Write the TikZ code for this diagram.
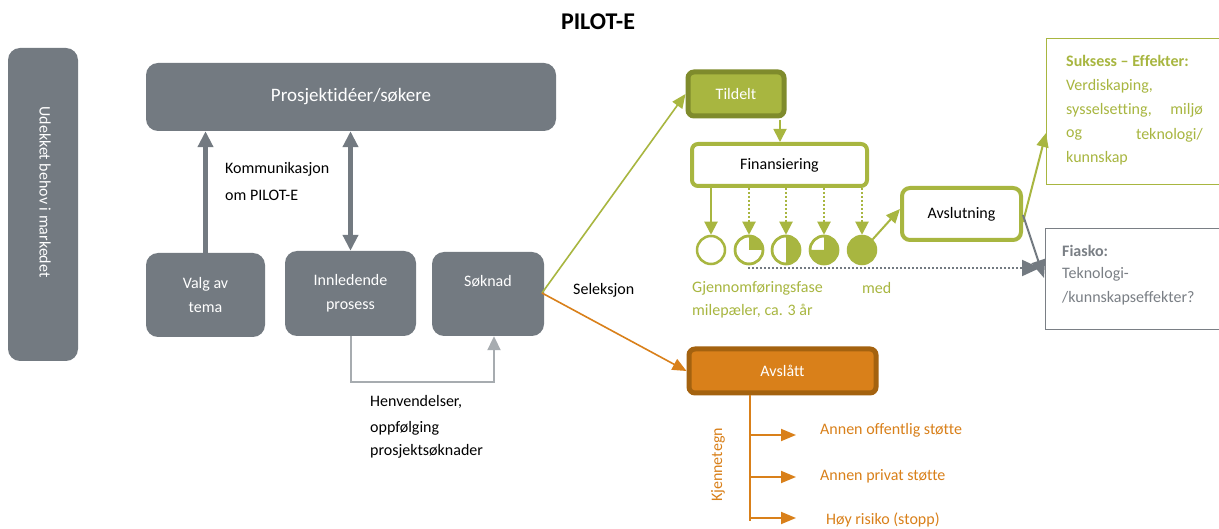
\documentclass[tikz,border=0pt]{standalone}
\usepackage{fontspec}
\setmainfont{Carlito}[Ligatures=NoCommon]
\usetikzlibrary{arrows.meta,positioning,calc}
\definecolor{gbox}{HTML}{737A81}
\definecolor{lgray}{HTML}{A7ACB0}
\definecolor{grn}{HTML}{A8B640}
\definecolor{dgrn}{HTML}{7F8B2C}
\definecolor{org}{HTML}{D9801A}
\definecolor{dorg}{HTML}{A4620F}
\definecolor{tgray}{HTML}{7A7F85}
\tikzset{
  graybox/.style={draw=none,fill=gbox,rounded corners=12pt,text=white,align=center,inner sep=0pt},
  fs/.style={font=\fontsize{16}{24}\selectfont},
  thickgray/.style={draw=gbox,line width=5pt,-{Triangle[width=15pt,length=16pt]}},
  garrow/.style={draw=grn,line width=1.6pt,-{Triangle[width=12pt,length=14pt]}},
  oarrow/.style={draw=org,line width=1.6pt,-{Triangle[width=12pt,length=14pt]}},
  milearrow/.style={draw=grn,line width=2pt,-{Triangle[width=13pt,length=13pt]}},
  mcirc/.style={circle,draw=grn,line width=2.5pt,minimum size=28pt,inner sep=0pt},
  lbl/.style={fs,anchor=west,inner sep=0pt},
}
\begin{document}
\begin{tikzpicture}[x=1pt,y=-1pt]
\useasboundingbox (0,0) rectangle (1219,529);
\fill[white] (0,0) rectangle (1219,529);

% title
\node[font=\fontsize{24}{28}\selectfont\bfseries] (title) at (598,22) {PILOT-E};

% left vertical box
\node[graybox,minimum width=70pt,minimum height=313pt] (side) at (43,204.5) {};
\node[text=white,rotate=-90,font=\fontsize{16}{20}\selectfont] (sidetxt) at (45,192) {Udekket behov i markedet};

% gray boxes
\node[graybox,minimum width=410pt,minimum height=68pt,font=\fontsize{19}{22}\selectfont] (top) at (351,97) {\raisebox{4pt}{Prosjektidéer/søkere}};
\node[graybox,minimum width=119pt,minimum height=84pt,fs] (valg) at (205.5,295) {Valg av\\tema};
\node[graybox,minimum width=131pt,minimum height=85pt,fs] (innl) at (350.5,293.5) {Innledende\\prosess};
\node[graybox,minimum width=112pt,minimum height=84pt,fs] (sok) at (488,294) {\raisebox{26pt}{Søknad}};

\draw[thickgray] (valg.north) -- (valg.north |- top.south);
\draw[thickgray,{Triangle[width=15pt,length=16pt]}-{Triangle[width=15pt,length=16pt]}] (innl.north) -- (innl.north |- top.south);

\node[lbl] (komm) at (225,169) {Kommunikasjon};
\node[lbl] (omp) at (225,195) {om PILOT-E};

% Henvendelser loop
\coordinate (sokin) at ([xshift=6pt]sok.south);
\draw[lgray,line width=2pt,-{Triangle[width=13pt,length=14pt]}] (innl.south) -- ++(0,46) -| (sokin);
\node[lbl] (henv1) at (370,402) {Henvendelser,};
\node[lbl] (henv2) at (370,428) {oppfølging};
\node[lbl] (henv3) at (370,451) {prosjektsøknader};

% Seleksjon
\coordinate (sel) at (542,293);
\node[lbl] (seltxt) at (573,290) {Seleksjon};

% Tildelt
\node[draw=dgrn,fill=grn,line width=5pt,rounded corners=6pt,minimum width=96pt,minimum height=44pt,text=white,fs] (tild) at (736,94) {Tildelt};
\draw[garrow] (sel) -- (tild.west);

% Finansiering
\node[draw=grn,fill=white,line width=4pt,rounded corners=6pt,minimum width=175pt,minimum height=42pt,fs] (fin) at (779.5,165) {Finansiering};
\draw[milearrow,line width=1.8pt] (780,120) -- (fin.north -| 780,0);

% milestone circles
\node[mcirc] (c1) at (711,250) {};
\node[mcirc] (c2) at (749,250) {};
\node[mcirc] (c3) at (786,250) {};
\node[mcirc] (c4) at (824,250) {};
\node[mcirc,fill=grn] (c5) at (862,250) {};
\fill[grn] (c2.center) -- ++(0,-14) arc[start angle=90,end angle=0,radius=14pt] -- cycle;
\fill[grn] (c3.center) ++(0,-14) arc[start angle=90,end angle=-90,radius=14pt] -- cycle;
\fill[grn] (c4.center) -- ++(0,-14) arc[start angle=90,end angle=-180,radius=14pt] -- cycle;
\node[mcirc] at (c2) {};
\node[mcirc] at (c3) {};
\node[mcirc] at (c4) {};

\draw[milearrow] (fin.south -| c1) -- (c1.north);
\foreach \c in {c2,c3,c4,c5}{
  \draw[milearrow,dotted,line width=2pt] (fin.south -| \c) -- (\c.north);
}

\node[lbl,text=grn] (gj1) at (692,288) {Gjennomføringsfase};
\node[lbl,text=grn] (gj2) at (862,288) {med};
\node[lbl,text=grn] (gj3) at (692,311) {milepæler, ca. 3 år};

% Avslutning
\node[draw=grn,fill=white,line width=4pt,rounded corners=8pt,minimum width=119pt,minimum height=52pt,fs] (avsl) at (961.5,214) {Avslutning};
\draw[garrow,line width=2pt] (c5.north east) -- ([yshift=5pt]avsl.west);

% Suksess box
\draw[grn,line width=1pt] (1223,39) -- (1046,39) -- (1046,185) -- (1223,185);
\coordinate (suk) at (1046,133);
\node[lbl,text=grn,font=\fontsize{16}{18}\selectfont\bfseries] (s1) at (1066,61) {Suksess – Effekter:};
\node[lbl,text=grn] (s2) at (1066,86) {Verdiskaping,};
\node[lbl,text=grn] (s3) at (1066,110) {sysselsetting,};
\node[fs,anchor=east,inner sep=0pt,text=grn] (s3b) at (1203,110) {miljø};
\node[lbl,text=grn] (s4) at (1066,135) {og};
\node[fs,anchor=east,inner sep=0pt,text=grn] (s4b) at (1203,135) {teknologi/};
\node[lbl,text=grn] (s5) at (1066,158) {kunnskap};
\draw[garrow,line width=2pt] ([yshift=-8pt]avsl.east) -- (suk);

% Fiasko box
\draw[tgray,line width=1pt] (1223,229) -- (1045,229) -- (1045,330) -- (1223,330);
\node[lbl,text=tgray,font=\fontsize{16}{18}\selectfont\bfseries] (f1) at (1062,251) {Fiasko:};
\node[lbl,text=tgray] (f2) at (1062,274) {Teknologi-};
\node[lbl,text=tgray] (f3) at (1062,298) {/kunnskapseffekter?};
\coordinate (fia) at (1044,278);
\draw[gbox,line width=2pt,-{Triangle[width=14pt,length=18pt]}] ([yshift=-1pt]avsl.east) -- (fia);
\coordinate (dotstart) at (748,268);
\coordinate (dotend) at (1040,268);
\draw[gbox,line width=2pt,dotted] (dotstart) -- ++(275,0);
\draw[gbox,line width=2pt,-{Triangle[width=16pt,length=18pt]}] (1020,268) -- (dotend);

% Avslått
\node[draw=dorg,fill=org,line width=5pt,rounded corners=6pt,minimum width=187pt,minimum height=44pt,text=white,fs] (avsla) at (782.5,371) {Avslått};
\draw[oarrow] (sel) -- (avsla.west);

\coordinate (k0) at (750,395);
\coordinate (k3) at (750,521);
\draw[org,line width=1.8pt] (k0) -- (k3);
\foreach \y/\n in {435/b1,477/b2,518/b3}{
  \draw[org,line width=1.8pt,-{Triangle[width=12pt,length=15pt]}] (750,\y) -- (796,\y);
}
\node[lbl,text=org] (a1) at (820,430) {Annen offentlig støtte};
\node[lbl,text=org] (a2) at (820,476) {Annen privat støtte};
\node[lbl,text=org] (a3) at (826,520) {Høy risiko (stopp)};
\node[fs,text=org,rotate=90,inner sep=0pt] (kj) at (718,465) {Kjennetegn};
\end{tikzpicture}
\end{document}
